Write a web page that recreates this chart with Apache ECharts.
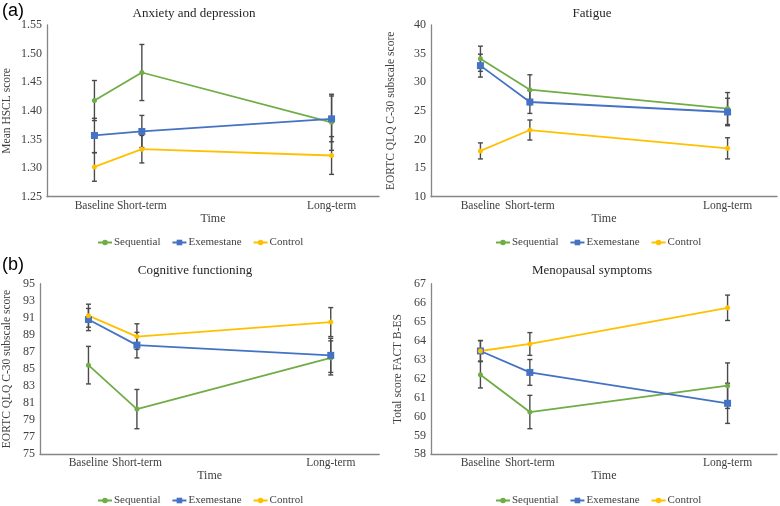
<!DOCTYPE html>
<html><head><meta charset="utf-8">
<script src="https://cdn.jsdelivr.net/npm/echarts@6/dist/echarts.min.js"></script>
<style>html,body{margin:0;padding:0;background:#fff}#c{width:780px;height:506px}</style>
</head><body><div id="c"></div>
<script>
// ---- data ----
const timeLabels = ['Baseline', 'Short-term', 'Long-term'];
const timeValues = [0, 1, 5];
const seriesNames = ['Sequential', 'Exemestane', 'Control'];
const panelTitles = ['Anxiety and depression', 'Fatigue', 'Cognitive functioning', 'Menopausal symptoms'];
const yAxisNames = ['Mean HSCL score', 'EORTC QLQ C-30 subscale score', 'EORTC QLQ C-30 subscale score', 'Total score FACT B-ES'];

const anxSequential = [1.418, 1.467, 1.380];
const anxSequentialErr = [0.035, 0.049, 0.049];
const anxExemestane = [1.357, 1.364, 1.386];
const anxExemestaneErr = [0.030, 0.028, 0.040];
const anxControl = [1.302, 1.333, 1.322];
const anxControlErr = [0.025, 0.024, 0.033];

const fatSequential = [34.1, 28.7, 25.4];
const fatSequentialErr = [2.2, 2.6, 2.8];
const fatExemestane = [32.9, 26.55, 24.8];
const fatExemestaneErr = [2.0, 2.0, 2.4];
const fatControl = [18.0, 21.65, 18.45];
const fatControlErr = [1.4, 1.75, 1.85];

const cogSequential = [85.45, 80.3, 86.3];
const cogSequentialErr = [2.2, 2.3, 2.0];
const cogExemestane = [90.8, 87.8, 86.6];
const cogExemestaneErr = [1.3, 1.5, 2.0];
const cogControl = [91.25, 88.8, 90.5];
const cogControlErr = [1.35, 1.5, 1.7];

const menSequential = [62.2, 60.23, 61.62];
const menSequentialErr = [0.7, 0.88, 1.2];
const menExemestane = [63.45, 62.32, 60.69];
const menExemestaneErr = [0.55, 0.68, 1.06];
const menControl = [63.45, 63.82, 65.73];
const menControlErr = [0.55, 0.6, 0.67];

const yRanges = [[1.25, 1.55, 0.05], [10, 40, 5], [75, 95, 1], [58, 67, 1]];

// ---- layout / style ----
const panelData = [
  [[anxSequential, anxSequentialErr], [anxExemestane, anxExemestaneErr], [anxControl, anxControlErr]],
  [[fatSequential, fatSequentialErr], [fatExemestane, fatExemestaneErr], [fatControl, fatControlErr]],
  [[cogSequential, cogSequentialErr], [cogExemestane, cogExemestaneErr], [cogControl, cogControlErr]],
  [[menSequential, menSequentialErr], [menExemestane, menExemestaneErr], [menControl, menControlErr]]
];
const grids = [
  {left: 42, top: 25, width: 337, height: 171.7},
  {left: 431, top: 25, width: 346.5, height: 171.7},
  {left: 34.4, top: 283.7, width: 344.8, height: 170.6},
  {left: 431, top: 283.7, width: 346.5, height: 170.6}
];
const yNameGaps = [34, 34, 27, 27];
const titlePos = [[189, 2], [587, 2], [190, 259], [587, 259]];
const legendPos = [[92, 232], [490, 232], [92, 490], [490, 490]];
const colors = ['#70AD47', '#4472C4', '#FFC000'];
const symbols = ['circle', 'rect', 'circle'];
const symbolSizes = [5, 7, 5];
const serif = '"Liberation Serif", "Times New Roman", serif';
const textColor = '#404040';
const axisColor = '#868686';

function renderErr(params, api) {
  const x = api.value(0), lo = api.value(1), hi = api.value(2);
  const p1 = api.coord([x, hi]), p2 = api.coord([x, lo]);
  const hw = 2.5;
  const style = {stroke: '#4a4a4a', lineWidth: 1.4};
  return {type: 'group', children: [
    {type: 'line', shape: {x1: p1[0], y1: p1[1], x2: p2[0], y2: p2[1]}, style: style},
    {type: 'line', shape: {x1: p1[0] - hw, y1: p1[1], x2: p1[0] + hw, y2: p1[1]}, style: style},
    {type: 'line', shape: {x1: p2[0] - hw, y1: p2[1], x2: p2[0] + hw, y2: p2[1]}, style: style}
  ]};
}

const option = {
  backgroundColor: '#fff',
  animation: false,
  title: [],
  legend: [],
  grid: grids,
  xAxis: [],
  yAxis: [],
  series: [],
  graphic: [
    {type: 'text', left: 2, top: 2, style: {text: '(a)', font: '18px "Liberation Sans", Arial, sans-serif', fill: '#000'}},
    {type: 'text', left: 2, top: 256, style: {text: '(b)', font: '18px "Liberation Sans", Arial, sans-serif', fill: '#000'}}
  ]
};

for (let p = 0; p < 4; p++) {
  option.title.push({
    text: panelTitles[p], left: titlePos[p][0], top: titlePos[p][1], textAlign: 'center',
    textStyle: {fontFamily: serif, fontSize: 13, fontWeight: 'normal', color: '#262626'}
  });
  option.legend.push({
    data: seriesNames, left: legendPos[p][0], top: legendPos[p][1],
    itemWidth: 14, itemHeight: 7, itemGap: 11,
    textStyle: {fontFamily: serif, fontSize: 11, color: textColor, padding: [0, 0, 0, -3]}
  });
  option.xAxis.push({
    type: 'value', gridIndex: p, min: -1, max: 6, interval: 1,
    name: 'Time', nameLocation: 'middle', nameGap: 14,
    nameTextStyle: {fontFamily: serif, fontSize: 12, color: textColor},
    axisLine: {onZero: false, lineStyle: {color: axisColor, width: 1.3}},
    axisTick: {show: false},
    splitLine: {show: false},
    axisLabel: {
      fontFamily: serif, fontSize: 11.5, color: textColor, margin: 3,
      formatter: function (v) { const i = timeValues.indexOf(v); return i >= 0 ? timeLabels[i] : ''; }
    }
  });
  const yr = yRanges[p];
  option.yAxis.push({
    type: 'value', gridIndex: p, min: yr[0], max: yr[1], interval: yr[2],
    name: yAxisNames[p], nameLocation: 'middle', nameGap: yNameGaps[p],
    nameTextStyle: {fontFamily: serif, fontSize: 11.5, color: textColor},
    axisLine: {show: true, onZero: false, lineStyle: {color: axisColor, width: 1.3}},
    axisTick: {show: false},
    splitLine: {show: false},
    axisLabel: {
      fontFamily: serif, fontSize: 12, color: textColor, margin: 5,
      formatter: function (v) {
        if (p === 0) return v.toFixed(2);
        if (p === 2) return (Math.round(v) % 2 === 1) ? String(Math.round(v)) : '';
        return String(Math.round(v));
      }
    }
  });
  // error bars
  for (let s = 0; s < 3; s++) {
    const vals = panelData[p][s][0], errs = panelData[p][s][1];
    option.series.push({
      type: 'custom', name: 'err' + p + s, xAxisIndex: p, yAxisIndex: p,
      renderItem: renderErr, z: 1,
      encode: {x: 0, y: [1, 2]},
      data: vals.map((v, i) => [timeValues[i], v - errs[i], v + errs[i]])
    });
  }
  for (let s = 0; s < 3; s++) {
    const vals = panelData[p][s][0];
    option.series.push({
      type: 'line', name: seriesNames[s], xAxisIndex: p, yAxisIndex: p, z: 3,
      data: vals.map((v, i) => [timeValues[i], v]),
      symbol: symbols[s], symbolSize: symbolSizes[s], showSymbol: true,
      lineStyle: {color: colors[s], width: 1.8},
      itemStyle: {color: colors[s]},
      color: colors[s]
    });
  }
}

const chart = echarts.init(document.getElementById('c'), null, {renderer: 'canvas'});
chart.setOption(option);
</script>
</body></html>
